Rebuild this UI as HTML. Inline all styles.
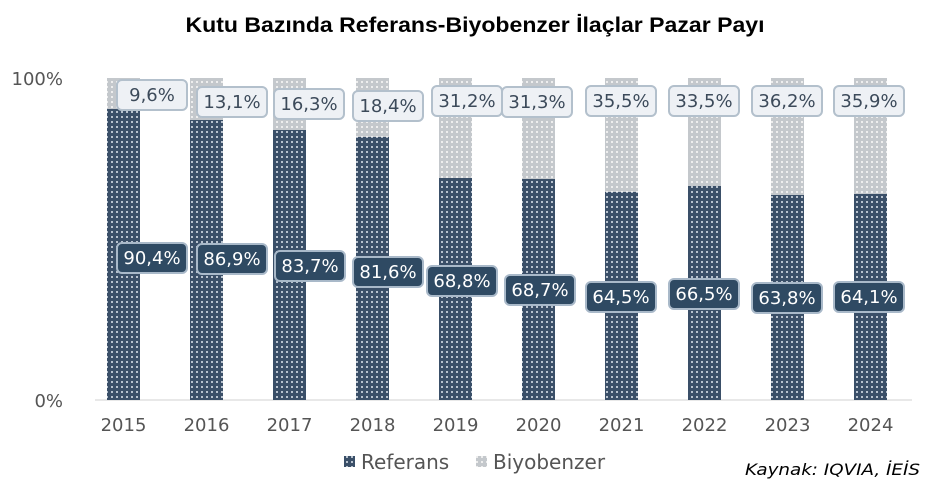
<!DOCTYPE html>
<html><head><meta charset="utf-8"><style>
html,body{margin:0;padding:0;background:#fff;}
svg{display:block;font-family:"DejaVu Sans","Liberation Sans",sans-serif;}
</style></head><body>
<svg width="945" height="493" viewBox="0 0 945 493" xmlns="http://www.w3.org/2000/svg">
<defs>
<pattern id="pd" width="5" height="5" patternUnits="userSpaceOnUse">
<rect width="5" height="5" fill="#3a4f68"/><rect x="1" y="1" width="2" height="2" fill="#b8c2ce"/>
</pattern>
<pattern id="pl" width="5" height="5" patternUnits="userSpaceOnUse">
<rect width="5" height="5" fill="#c4c8cc"/><rect x="1" y="1" width="2" height="2" fill="#eeeeee"/>
</pattern>
</defs>
<text x="475" y="32" text-anchor="middle" font-family="Liberation Sans, sans-serif" font-weight="bold" font-size="21" fill="#000" textLength="579" lengthAdjust="spacingAndGlyphs">Kutu Bazında Referans-Biyobenzer İlaçlar Pazar Payı</text>
<line x1="95" y1="400" x2="912" y2="400" stroke="#d0d0d0" stroke-width="1"/>
<text x="63" y="85" text-anchor="end" font-size="18" fill="#555">100%</text>
<text x="63" y="407" text-anchor="end" font-size="18" fill="#555">0%</text>
<g>
<rect x="107" y="78" width="33" height="31" fill="url(#pl)"/><rect x="107" y="109" width="33" height="291" fill="url(#pd)"/>
<rect x="190" y="78" width="33" height="42" fill="url(#pl)"/><rect x="190" y="120" width="33" height="280" fill="url(#pd)"/>
<rect x="273" y="78" width="33" height="52" fill="url(#pl)"/><rect x="273" y="130" width="33" height="270" fill="url(#pd)"/>
<rect x="356" y="78" width="33" height="59" fill="url(#pl)"/><rect x="356" y="137" width="33" height="263" fill="url(#pd)"/>
<rect x="439" y="78" width="33" height="100" fill="url(#pl)"/><rect x="439" y="178" width="33" height="222" fill="url(#pd)"/>
<rect x="522" y="78" width="33" height="101" fill="url(#pl)"/><rect x="522" y="179" width="33" height="221" fill="url(#pd)"/>
<rect x="605" y="78" width="33" height="114" fill="url(#pl)"/><rect x="605" y="192" width="33" height="208" fill="url(#pd)"/>
<rect x="688" y="78" width="33" height="108" fill="url(#pl)"/><rect x="688" y="186" width="33" height="214" fill="url(#pd)"/>
<rect x="771" y="78" width="33" height="117" fill="url(#pl)"/><rect x="771" y="195" width="33" height="205" fill="url(#pd)"/>
<rect x="854" y="78" width="33" height="116" fill="url(#pl)"/><rect x="854" y="194" width="33" height="206" fill="url(#pd)"/>
</g>
<g font-size="18" text-anchor="middle">
<g fill="#eef1f5" stroke="#b3c0cc" stroke-width="2">
<rect x="117" y="80" width="70" height="30" rx="5"/><rect x="197" y="87" width="70" height="30" rx="5"/><rect x="274" y="89" width="70" height="30" rx="5"/><rect x="353" y="91" width="70" height="30" rx="5"/><rect x="432" y="86" width="70" height="30" rx="5"/><rect x="502" y="87" width="70" height="30" rx="5"/><rect x="586" y="86" width="70" height="30" rx="5"/><rect x="669" y="86" width="70" height="30" rx="5"/><rect x="752" y="86" width="70" height="30" rx="5"/><rect x="834" y="86" width="70" height="30" rx="5"/>
</g>
<g fill="#3c4a5a">
<text x="152" y="101">9,6%</text><text x="232" y="108">13,1%</text><text x="309" y="110">16,3%</text><text x="388" y="112">18,4%</text><text x="467" y="107">31,2%</text><text x="537" y="108">31,3%</text><text x="621" y="107">35,5%</text><text x="704" y="107">33,5%</text><text x="787" y="107">36,2%</text><text x="869" y="107">35,9%</text>
</g>
<g fill="#2f4a63" stroke="#a9b9c9" stroke-width="2">
<rect x="117" y="243" width="70" height="30" rx="5"/><rect x="197" y="244" width="70" height="30" rx="5"/><rect x="275" y="251" width="70" height="30" rx="5"/><rect x="353" y="257" width="70" height="30" rx="5"/><rect x="427" y="266" width="70" height="30" rx="5"/><rect x="505" y="275" width="70" height="30" rx="5"/><rect x="586" y="282" width="70" height="30" rx="5"/><rect x="669" y="279" width="70" height="30" rx="5"/><rect x="752" y="283" width="70" height="30" rx="5"/><rect x="834" y="282" width="70" height="30" rx="5"/>
</g>
<g fill="#fff">
<text x="152" y="264">90,4%</text><text x="232" y="265">86,9%</text><text x="310" y="272">83,7%</text><text x="388" y="278">81,6%</text><text x="462" y="287">68,8%</text><text x="540" y="296">68,7%</text><text x="621" y="303">64,5%</text><text x="704" y="300">66,5%</text><text x="787" y="304">63,8%</text><text x="869" y="303">64,1%</text>
</g>
</g>
<g font-size="18" fill="#555" text-anchor="middle">
<text x="123.5" y="431">2015</text><text x="206.5" y="431">2016</text><text x="289.5" y="431">2017</text><text x="372.5" y="431">2018</text><text x="455.5" y="431">2019</text><text x="538.5" y="431">2020</text><text x="621.5" y="431">2021</text><text x="704.5" y="431">2022</text><text x="787.5" y="431">2023</text><text x="870.5" y="431">2024</text>
</g>
<rect x="344" y="456" width="11" height="11" fill="url(#pd)"/>
<text x="361" y="469" font-size="20" fill="#555">Referans</text>
<rect x="476" y="456" width="11" height="11" fill="url(#pl)"/>
<text x="493" y="469" font-size="20" fill="#555">Biyobenzer</text>
<text x="920" y="475" text-anchor="end" font-size="16" font-style="italic" fill="#000" textLength="175" lengthAdjust="spacingAndGlyphs">Kaynak: IQVIA, İEİS</text>
</svg>
</body></html>
